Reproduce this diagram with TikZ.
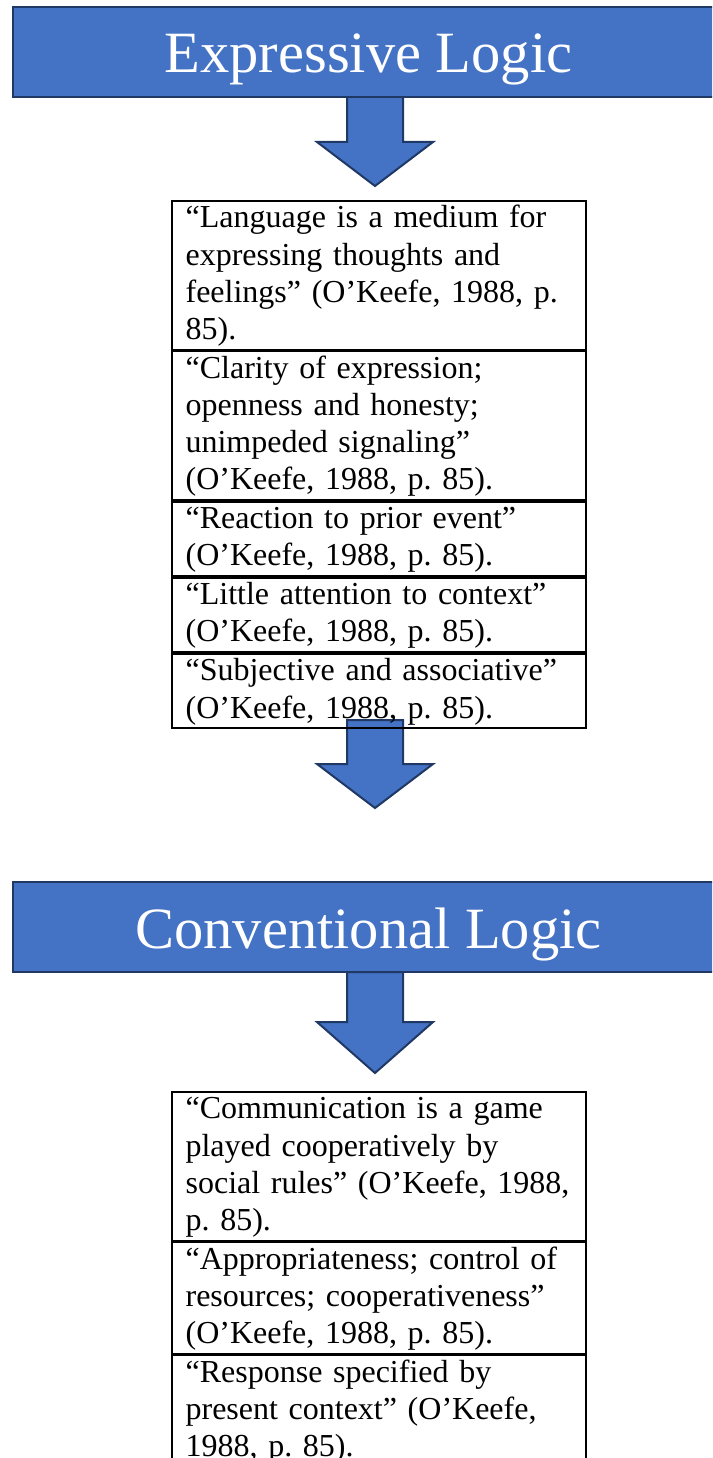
\documentclass[tikz,border=0pt]{standalone}
\usepackage{fontspec}
\setmainfont{Liberation Serif}
\newfontfamily\bodyserif{Liberation Serif}
\definecolor{hdrfill}{HTML}{4472C4}
\definecolor{hdrline}{HTML}{1F3864}
\begin{document}
\begin{tikzpicture}[x=1pt,y=-1pt,
  header/.style={draw=hdrline, fill=hdrfill, line width=2pt, text=white,
    minimum width=711pt, minimum height=90pt, inner sep=0pt,
    font=\bodyserif\fontsize{58.5}{60}\selectfont, text height=46pt, text depth=4pt},
  blockarrow/.style={draw=hdrline, fill=hdrfill, line width=2pt, line join=miter},
  row/.style={draw=black, line width=1.8pt, anchor=north west, inner xsep=14pt, inner ysep=0pt,
    text width=386pt, align=left, text height=27pt,
    font=\bodyserif\fontsize{32}{37.14}\selectfont\frenchspacing},
  four/.style={text depth=121.6pt},
  three/.style={text depth=84.4pt},
  two/.style={text depth=47.3pt}]
\useasboundingbox (0,0) rectangle (712,1458);
\clip (0,0) rectangle (712,1458);
% block arrows (drawn first, under headers and boxes)
\draw[blockarrow, shift={(375,97)}] (-28,0) -- (28,0) -- (28,45) -- (58,45) -- (0,89) -- (-58,45) -- (-28,45) -- cycle;
\draw[blockarrow, shift={(375,720)}] (-28,0) -- (28,0) -- (28,44) -- (58,44) -- (0,88) -- (-58,44) -- (-28,44) -- cycle;
\draw[blockarrow, shift={(375,972)}] (-28,0) -- (28,0) -- (28,50) -- (58,50) -- (0,101) -- (-58,50) -- (-28,50) -- cycle;
% headers
\node[header] (h1) at (368.5,52) {Expressive Logic};
\node[header] (h2) at (368.5,927) {Conventional Logic};
% first table
\node[row, four] (a1) at (170.7,200) {“Language is a medium for\\expressing thoughts and\\feelings” (O’Keefe, 1988, p.\\85).};
\node[row, four] (a2) at (a1.south west) {“Clarity of expression;\\openness and honesty;\\unimpeded signaling”\\(O’Keefe, 1988, p. 85).};
\node[row, two] (a3) at (a2.south west) {“Reaction to prior event”\\(O’Keefe, 1988, p. 85).};
\node[row, two] (a4) at (a3.south west) {“Little attention to context”\\(O’Keefe, 1988, p. 85).};
\node[row, two] (a5) at (a4.south west) {“Subjective and associative”\\(O’Keefe, 1988, p. 85).};
% second table
\node[row, four] (b1) at (170.7,1091) {“Communication is a game\\played cooperatively by\\social rules” (O’Keefe, 1988,\\p. 85).};
\node[row, three] (b2) at (b1.south west) {“Appropriateness; control of\\resources; cooperativeness”\\(O’Keefe, 1988, p. 85).};
\node[row, three] (b3) at (b2.south west) {“Response specified by\\present context” (O’Keefe,\\1988, p. 85).};
\end{tikzpicture}
\end{document}
